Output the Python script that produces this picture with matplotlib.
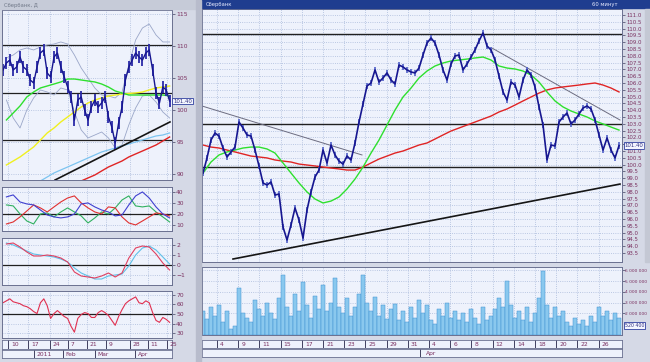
import numpy as np
import matplotlib
matplotlib.use("Agg")
import matplotlib.pyplot as plt
from matplotlib.patches import Rectangle

plt.rcParams['font.family'] = ['DejaVu Sans']

W, H = 650, 362

# ---------------- RIGHT PANEL DATA (hourly-ish samples, day index from Mar 4) -------------
r_t0, r_dt = -1.32, 0.3774
r_price = [99.38, 100.49, 101.81, 102.32, 102.10, 101.22, 100.56, 100.93, 101.29, 103.13,
           102.69, 102.18, 102.10, 101.07, 99.90, 98.65, 98.50, 98.72, 97.76, 97.84,
           95.41, 94.46, 95.56, 96.81, 95.93, 94.60, 96.66, 97.99, 99.09, 99.60,
           101.07, 100.12, 101.44, 100.71, 100.26, 100.04, 100.63, 100.34, 101.59, 103.13,
           104.46, 105.78, 106.00, 106.96, 106.07, 106.37, 106.74, 106.22, 105.93, 107.32,
           107.18, 106.96, 106.81, 106.74, 107.10, 108.06, 108.94, 109.31, 108.94, 108.06,
           106.96, 106.22, 107.40, 107.99, 108.06, 106.96, 107.40, 107.91, 108.43, 109.09,
           109.68, 108.72, 108.43, 107.69, 106.51, 105.34, 104.75, 106.07, 105.85, 104.97,
           106.22, 106.96, 106.59, 105.71, 104.24, 102.91, 100.34, 101.44, 101.37, 103.13,
           103.50, 103.79, 102.99, 103.28, 103.72, 104.16, 104.31, 104.09, 103.28, 102.18,
           101.07, 101.96, 101.07, 100.49, 101.40]
r_ma_fast = [99.38, 100.19, 100.71, 100.93, 101.07, 101.22, 101.29, 101.29, 101.15, 100.85,
             100.12, 99.38, 98.65, 97.99, 97.47, 97.18, 97.32, 97.62, 98.21, 98.94,
             99.82, 100.85, 101.81, 102.91, 104.01, 104.97, 105.63, 106.37, 106.88, 107.25,
             107.47, 107.62, 107.69, 107.76, 107.84, 107.91, 107.69, 107.25, 107.10, 107.03,
             106.88, 106.59, 106.07, 105.34, 104.68, 104.24, 103.94, 103.72, 103.50, 103.21,
             102.99, 102.76, 102.54]
r_ma_slow = [101.44, 101.29, 101.22, 101.07, 100.93, 100.78, 100.63, 100.56, 100.49, 100.34,
             100.26, 100.19, 100.04, 99.97, 99.90, 99.82, 99.75, 99.68, 99.60, 99.60,
             99.82, 100.12, 100.41, 100.63, 100.85, 101.00, 101.22, 101.44, 101.59, 101.88,
             102.18, 102.47, 102.69, 102.91, 103.13, 103.35, 103.57, 103.87, 104.09, 104.38,
             104.68, 104.97, 105.26, 105.49, 105.63, 105.71, 105.78, 105.85, 105.93, 106.00,
             105.85, 105.63, 105.34]
r_volume = [2.2, 1.5, 2.6, 1.8, 2.8, 1.2, 2.2, 0.6, 0.8, 4.4, 2.0, 1.6, 1.2, 3.2, 2.4, 1.8,
            3.0, 2.0, 1.5, 3.4, 5.6, 2.6, 1.8, 3.8, 2.2, 4.9, 2.8, 1.6, 3.6, 2.4, 4.6, 2.2,
            3.0, 5.3, 2.6, 2.0, 3.4, 1.8, 2.6, 3.8, 5.6, 3.0, 2.2, 3.5, 1.8, 2.8, 1.5, 2.4,
            2.9, 1.4, 2.2, 1.2, 2.6, 1.6, 3.2, 2.0, 2.8, 1.4, 1.0, 2.4, 1.8, 3.0, 1.6, 2.2,
            1.4, 2.0, 1.2, 2.4, 1.6, 1.0, 2.6, 1.4, 1.8, 2.4, 3.4, 2.6, 5.0, 2.8, 1.6, 2.2,
            1.4, 2.6, 1.2, 2.0, 3.4, 5.9, 2.8, 1.6, 2.6, 1.8, 2.2, 1.2, 0.8, 1.6, 1.0, 1.4,
            0.8, 1.8, 1.2, 2.6, 1.8, 2.2, 1.4, 2.0, 1.6]
r_hlines = [109.6, 103.0, 99.8]
r_trend_down1 = ([-1.42, 13.68], [104.31, 100.71])
r_trend_down2 = ([25.94, 38.02], [108.57, 103.28])
r_trend_up = ([1.51, 38.02], [93.06, 98.57])
r_date_labels = ["4", "9", "11", "15", "17", "21", "23", "25", "29", "31",
                 "4", "6", "8", "12", "14", "18", "20", "22", "26"]
r_last = 101.40
r_last_vol = "520 400"

# ---------------- LEFT PANEL DATA (daily bars) ---------------------------------------------
l_price = [106.25, 107.34, 107.81, 106.25, 106.72, 108.28, 106.72, 106.25, 104.69, 104.22,
           106.72, 108.91, 109.38, 105.78, 105.16, 108.28, 108.91, 106.72, 105.16, 103.59,
           102.03, 98.44, 101.56, 102.03, 100.00, 98.44, 100.47, 101.56, 100.47, 101.09,
           102.03, 98.91, 97.34, 94.84, 97.97, 100.47, 104.69, 106.72, 107.81, 108.91,
           108.28, 107.81, 108.91, 109.38, 106.25, 102.66, 101.09, 103.59, 103.13, 101.40]
l_ma_green = [98.44, 99.53, 100.63, 102.03, 102.81, 103.44, 103.75, 104.06, 104.38, 104.84,
              104.84, 104.69, 104.53, 104.38, 104.06, 103.59, 102.97, 102.66, 102.34, 102.34,
              102.34, 102.34, 102.34, 102.34, 102.19]
l_ma_yellow = [91.41, 92.03, 92.66, 93.44, 94.22, 95.31, 96.41, 97.19, 98.13, 98.91,
               99.69, 100.47, 101.09, 101.56, 101.88, 102.19, 102.34, 102.50, 102.58, 102.66,
               102.81, 103.13, 103.44, 103.59, 103.75]
l_ma_red = [np.nan] * 11 + [88.91, 89.38, 89.84, 90.47, 91.09, 91.56, 92.03, 92.66, 93.13,
                            93.59, 94.06, 94.53, 95.16, 95.78]
l_ma_cyan = [np.nan] * 5 + [88.91, 89.53, 90.16, 90.63, 91.09, 91.56, 92.03, 92.50, 92.97,
                            93.44, 93.75, 94.06, 94.38, 94.69, 95.00, 95.31, 95.63, 95.94,
                            96.09, 96.41]
l_band_up = [108.13, 108.59, 109.38, 109.69, 109.38, 109.84, 110.16, 110.31, 110.63, 110.31,
             108.59, 106.56, 105.00, 103.44, 102.34, 102.19, 101.88, 102.81, 107.03, 110.94,
             112.81, 113.44, 111.72, 110.63, 110.63]
l_band_lo = [101.56, 98.75, 97.19, 100.00, 101.88, 103.13, 102.81, 102.34, 103.44, 103.13,
             99.69, 96.88, 95.63, 96.09, 96.56, 95.63, 94.06, 94.53, 97.66, 100.31,
             102.19, 102.34, 101.25, 99.69, 98.75]
l_hlines = [110.2, 102.7, 95.3]
l_trend_up = ([15.3, 49.1], [89.06, 98.13])

adx_plus = [35.5, 37.3, 30.9, 29.1, 28.2, 23.6, 19.1, 17.3, 16.4, 17.3, 20.0, 29.1, 30.0,
            26.4, 23.6, 21.8, 18.2, 19.1, 28.2, 36.4, 40.0, 34.5, 26.4, 20.0, 16.4]
adx_minus = [10.9, 12.7, 17.3, 22.7, 28.2, 25.5, 21.8, 26.4, 30.9, 34.5, 36.4, 30.0, 25.5,
             21.8, 20.0, 26.4, 25.5, 17.3, 11.8, 10.0, 13.6, 17.3, 20.9, 20.0, 18.2]
adx_line = [28.2, 27.3, 20.0, 13.6, 10.9, 20.0, 20.9, 17.3, 21.8, 25.5, 21.8, 18.2, 11.8,
            16.4, 21.8, 20.0, 25.5, 32.7, 36.4, 27.3, 26.4, 27.3, 21.8, 17.3, 12.7]
macd_line = [2.1, 2.2, 1.8, 1.3, 0.9, 0.9, 1.0, 0.9, 0.7, 0.3, -0.7, -1.1, -1.2, -1.3, -1.1,
             -0.8, -1.2, -0.8, 0.7, 1.7, 1.9, 1.8, 1.1, 0.2, -0.5]
macd_signal = [2.2, 2.0, 1.7, 1.4, 1.1, 1.0, 0.9, 0.8, 0.6, 0.3, -0.3, -0.8, -1.1, -1.4, -1.4,
               -1.1, -1.0, -0.9, -0.1, 1.0, 1.7, 1.9, 1.5, 0.8, 0.1]
rsi = [61.8, 63.8, 65.9, 62.8, 61.8, 60.8, 58.7, 57.7, 55.6, 52.6, 50.5, 61.8, 65.9, 58.7,
       45.4, 50.5, 53.6, 50.5, 47.4, 45.4, 37.2, 31.0, 45.4, 49.5, 51.5, 50.5, 46.4, 46.4,
       51.5, 53.6, 51.5, 48.5, 43.3, 38.2, 47.4, 54.6, 60.8, 63.8, 65.9, 67.9, 61.8, 60.8,
       63.8, 61.8, 51.5, 43.3, 41.3, 46.4, 44.4, 41.3]
l_date_pos = [1.5, 7.4, 13.8, 19.1, 24.7, 30.3, 37.4, 42.6, 48.2]
l_date_labels = ["10", "17", "24", "7", "21", "9", "28", "11", "25"]
l_month_pos = [9.0, 17.5, 27.0, 38.8]
l_month_labels = ["2011", "Feb", "Mar", "Apr"]

# ---------------- STYLE ----------------
FIG_BG = '#d5d9e6'
AX_BG = '#eef2fc'
GRID = '#a9b9da'
LBL = '#7a3060'
FS = 4.3
FS_R = 3.9

fig = plt.figure(figsize=(W / 100, H / 100), dpi=100, facecolor=FIG_BG)


def ax_px(x0, y0, x1, y1, **kw):
    return fig.add_axes([x0 / W, 1 - y1 / H, (x1 - x0) / W, (y1 - y0) / H], **kw)


def style(ax, fs=FS):
    ax.set_facecolor(AX_BG)
    for s in ax.spines.values():
        s.set_color('#6a7090')
        s.set_linewidth(0.7)
    ax.tick_params(axis='both', length=2, width=0.5, colors='#404060',
                   labelsize=fs, labelcolor=LBL, pad=1)
    ax.yaxis.tick_right()
    ax.grid(True, color=GRID, linestyle=':', linewidth=0.6)
    ax.set_axisbelow(True)


def fig_rect(x0, y0, x1, y1, color, z=0):
    fig.patches.append(Rectangle((x0 / W, 1 - y1 / H), (x1 - x0) / W, (y1 - y0) / H,
                                 transform=fig.transFigure, color=color, zorder=z))


def box(ax, yfrac, txt, fs=FS_R):
    ax.text(1.006, yfrac, txt, transform=ax.transAxes, fontsize=fs, color='#303080',
            va='center', ha='left', zorder=5,
            bbox=dict(boxstyle='square,pad=0.15', fc='#f4f6ff', ec='#3040a0', lw=0.6))


# title bars
fig_rect(0, 0, 199, 9, '#c6cbd8')
fig.text(4 / W, 1 - 5 / H, "Сбербанк, Д", fontsize=3.8, color='#707888', va='center')
fig_rect(201, 0, 650, 8, '#1f3d8f')
fig.text(206 / W, 1 - 4.5 / H, "Сбербанк", fontsize=3.8, color='#e8ecff', va='center')
fig.text(592 / W, 1 - 4.5 / H, "60 минут", fontsize=3.8, color='#e8ecff', va='center')
# splitter and scroll bar
fig_rect(196, 0, 201, 362, '#b8bccc')
fig_rect(645, 9, 650, 262, '#c4c8d4')

# ---------------- RIGHT PRICE ----------------
n = len(r_price)
r_t = r_t0 + r_dt * np.arange(n)
r_tm = r_t[::2]
axR = ax_px(202, 9, 622, 262)
style(axR, FS_R)
axR.set_xlim(-1.415, 38.21)
axR.set_ylim(92.84, 111.44)
ticks = np.arange(93.5, 111.01, 0.5)
axR.set_yticks(ticks)
axR.set_yticklabels(["" if abs(v - 101.5) < 0.01 else f"{v:.1f}" for v in ticks])
axR.set_xticks(np.arange(0, 38, 2))
axR.set_xticklabels([])
axR.tick_params(axis='x', length=0)
for h in r_hlines:
    axR.axhline(h, color='#202020', lw=1.0)
axR.plot(*r_trend_down1, color='#6c6c80', lw=0.7)
axR.plot(*r_trend_down2, color='#6c6c80', lw=0.7)
axR.plot(*r_trend_up, color='#151515', lw=1.2)
axR.plot(r_tm, r_ma_slow, color='#e02424', lw=1.0)
axR.plot(r_tm, r_ma_fast, color='#2ee02e', lw=1.0)
axR.vlines(r_t, np.array(r_price) - 0.25, np.array(r_price) + 0.25, color='#5060c8', lw=1.2)
axR.plot(r_t, r_price, color='#161690', lw=1.2)
box(axR, (r_last - 92.84) / (111.44 - 92.84), f"{r_last:.2f}")

# ---------------- RIGHT VOLUME ----------------
axV = ax_px(202, 267, 622, 335)
style(axV, FS_R)
axV.set_xlim(-1.415, 38.21)
axV.set_ylim(0, 6.3)
axV.bar(r_t, r_volume, width=r_dt * 0.92, color='#8ac8ee', edgecolor='#3f92d2', lw=0.35)
vt = [2, 3, 4, 5, 6]
axV.set_yticks(vt)
axV.set_yticklabels([f"{v} 000 000" for v in vt])
axV.tick_params(axis='y', labelsize=3.2, pad=0.5)
axV.set_xticks(np.arange(0, 38, 2))
axV.set_xticklabels([])
axV.tick_params(axis='x', length=0)
box(axV, 0.14, r_last_vol, fs=3.4)

# right date rows
axD = ax_px(202, 340, 622, 348)
axD.set_facecolor(AX_BG)
axD.set_xlim(-1.415, 38.21)
axD.set_ylim(0, 1)
axD.set_xticks([]); axD.set_yticks([])
for s in axD.spines.values():
    s.set_color('#6a7090'); s.set_linewidth(0.6)
for i, lab in enumerate(r_date_labels):
    axD.axvline(2 * i, color='#404060', lw=0.7)
    axD.text(2 * i + 0.3, 0.45, lab, fontsize=FS, color=LBL, va='center', ha='left')
axM = ax_px(202, 349, 622, 357)
axM.set_facecolor(AX_BG)
axM.set_xlim(-1.415, 38.21)
axM.set_ylim(0, 1)
axM.set_xticks([]); axM.set_yticks([])
for s in axM.spines.values():
    s.set_color('#6a7090'); s.set_linewidth(0.6)
axM.axvline(19.15, color='#404060', lw=0.7)
axM.text(19.7, 0.45, "Apr", fontsize=FS, color=LBL, va='center', ha='left')

# ---------------- LEFT PRICE ----------------
l_t = np.arange(len(l_price))
l_tm = l_t[1::2]
axL = ax_px(2, 10, 172, 180)
style(axL)
axL.set_xlim(-0.3, 49.7)
axL.set_ylim(89.06, 115.625)
axL.set_yticks([90, 95, 100, 105, 110, 115])
axL.set_xticks(l_date_pos)
axL.set_xticklabels([])
axL.tick_params(axis='x', length=0)
for h in l_hlines:
    axL.axhline(h, color='#202020', lw=0.9)
axL.plot(l_tm, l_band_up, color='#9aa6c8', lw=0.6)
axL.plot(l_tm, l_band_lo, color='#9aa6c8', lw=0.6)
axL.plot(l_tm, l_ma_cyan, color='#7cc4f0', lw=0.9)
axL.plot(l_tm, l_ma_red, color='#e02424', lw=1.0)
axL.plot(l_tm, l_ma_yellow, color='#f0f020', lw=1.0)
axL.plot(l_tm, l_ma_green, color='#2ee02e', lw=1.0)
axL.plot(*l_trend_up, color='#151515', lw=1.2)
axL.vlines(l_t, np.array(l_price) - 0.9, np.array(l_price) + 0.9, color='#2a2aa8', lw=1.3)
axL.plot(l_t, l_price, color='#161690', lw=1.0)
box(axL, (101.4 - 89.06) / (115.625 - 89.06), "101.40")

# oscillator 1
ax1 = ax_px(2, 187, 172, 231)
style(ax1)
ax1.set_xlim(-0.3, 49.7); ax1.set_ylim(4.5, 44.5)
ax1.set_yticks([10, 20, 30, 40])
ax1.set_xticks(l_date_pos); ax1.set_xticklabels([]); ax1.tick_params(axis='x', length=0)
ax1.axhline(20, color='#202020', lw=0.9)
ax1.plot(l_tm, adx_line, color='#30b060', lw=0.8)
ax1.plot(l_tm, adx_minus, color='#e03030', lw=0.8)
ax1.plot(l_tm, adx_plus, color='#4040d0', lw=0.8)

# oscillator 2
ax2 = ax_px(2, 238, 172, 285)
style(ax2)
ax2.set_xlim(-0.3, 49.7); ax2.set_ylim(-2.0, 2.7)
ax2.set_yticks([-1, 0, 1, 2])
ax2.set_xticks(l_date_pos); ax2.set_xticklabels([]); ax2.tick_params(axis='x', length=0)
ax2.axhline(0, color='#202020', lw=0.9)
ax2.plot(l_tm, macd_signal, color='#60c0e8', lw=0.8)
ax2.plot(l_tm, macd_line, color='#e04060', lw=0.8)

# oscillator 3
ax3 = ax_px(2, 291, 172, 338)
style(ax3)
ax3.set_xlim(-0.3, 49.7); ax3.set_ylim(24.9, 74.1)
ax3.set_yticks([30, 40, 50, 60, 70])
ax3.set_xticks(l_date_pos); ax3.set_xticklabels([]); ax3.tick_params(axis='x', length=0)
ax3.axhline(50, color='#202020', lw=0.9)
ax3.plot(l_t, rsi, color='#e03050', lw=0.8)

# left date rows
axLD = ax_px(2, 340, 172, 349)
axLD.set_facecolor(AX_BG)
axLD.set_xlim(-0.3, 49.7); axLD.set_ylim(0, 1)
axLD.set_xticks([]); axLD.set_yticks([])
for s in axLD.spines.values():
    s.set_color('#6a7090'); s.set_linewidth(0.6)
for p, lab in zip(l_date_pos, l_date_labels):
    axLD.axvline(p, color='#404060', lw=0.7)
    axLD.text(p + 0.8, 0.45, lab, fontsize=FS, color=LBL, va='center', ha='left')
axLM = ax_px(2, 350, 172, 358)
axLM.set_facecolor(AX_BG)
axLM.set_xlim(-0.3, 49.7); axLM.set_ylim(0, 1)
axLM.set_xticks([]); axLM.set_yticks([])
for s in axLM.spines.values():
    s.set_color('#6a7090'); s.set_linewidth(0.6)
for p, lab in zip(l_month_pos, l_month_labels):
    axLM.axvline(p, color='#404060', lw=0.7)
    axLM.text(p + 0.8, 0.45, lab, fontsize=FS, color=LBL, va='center', ha='left')

fig.savefig("out.png", dpi=100, facecolor=FIG_BG)
